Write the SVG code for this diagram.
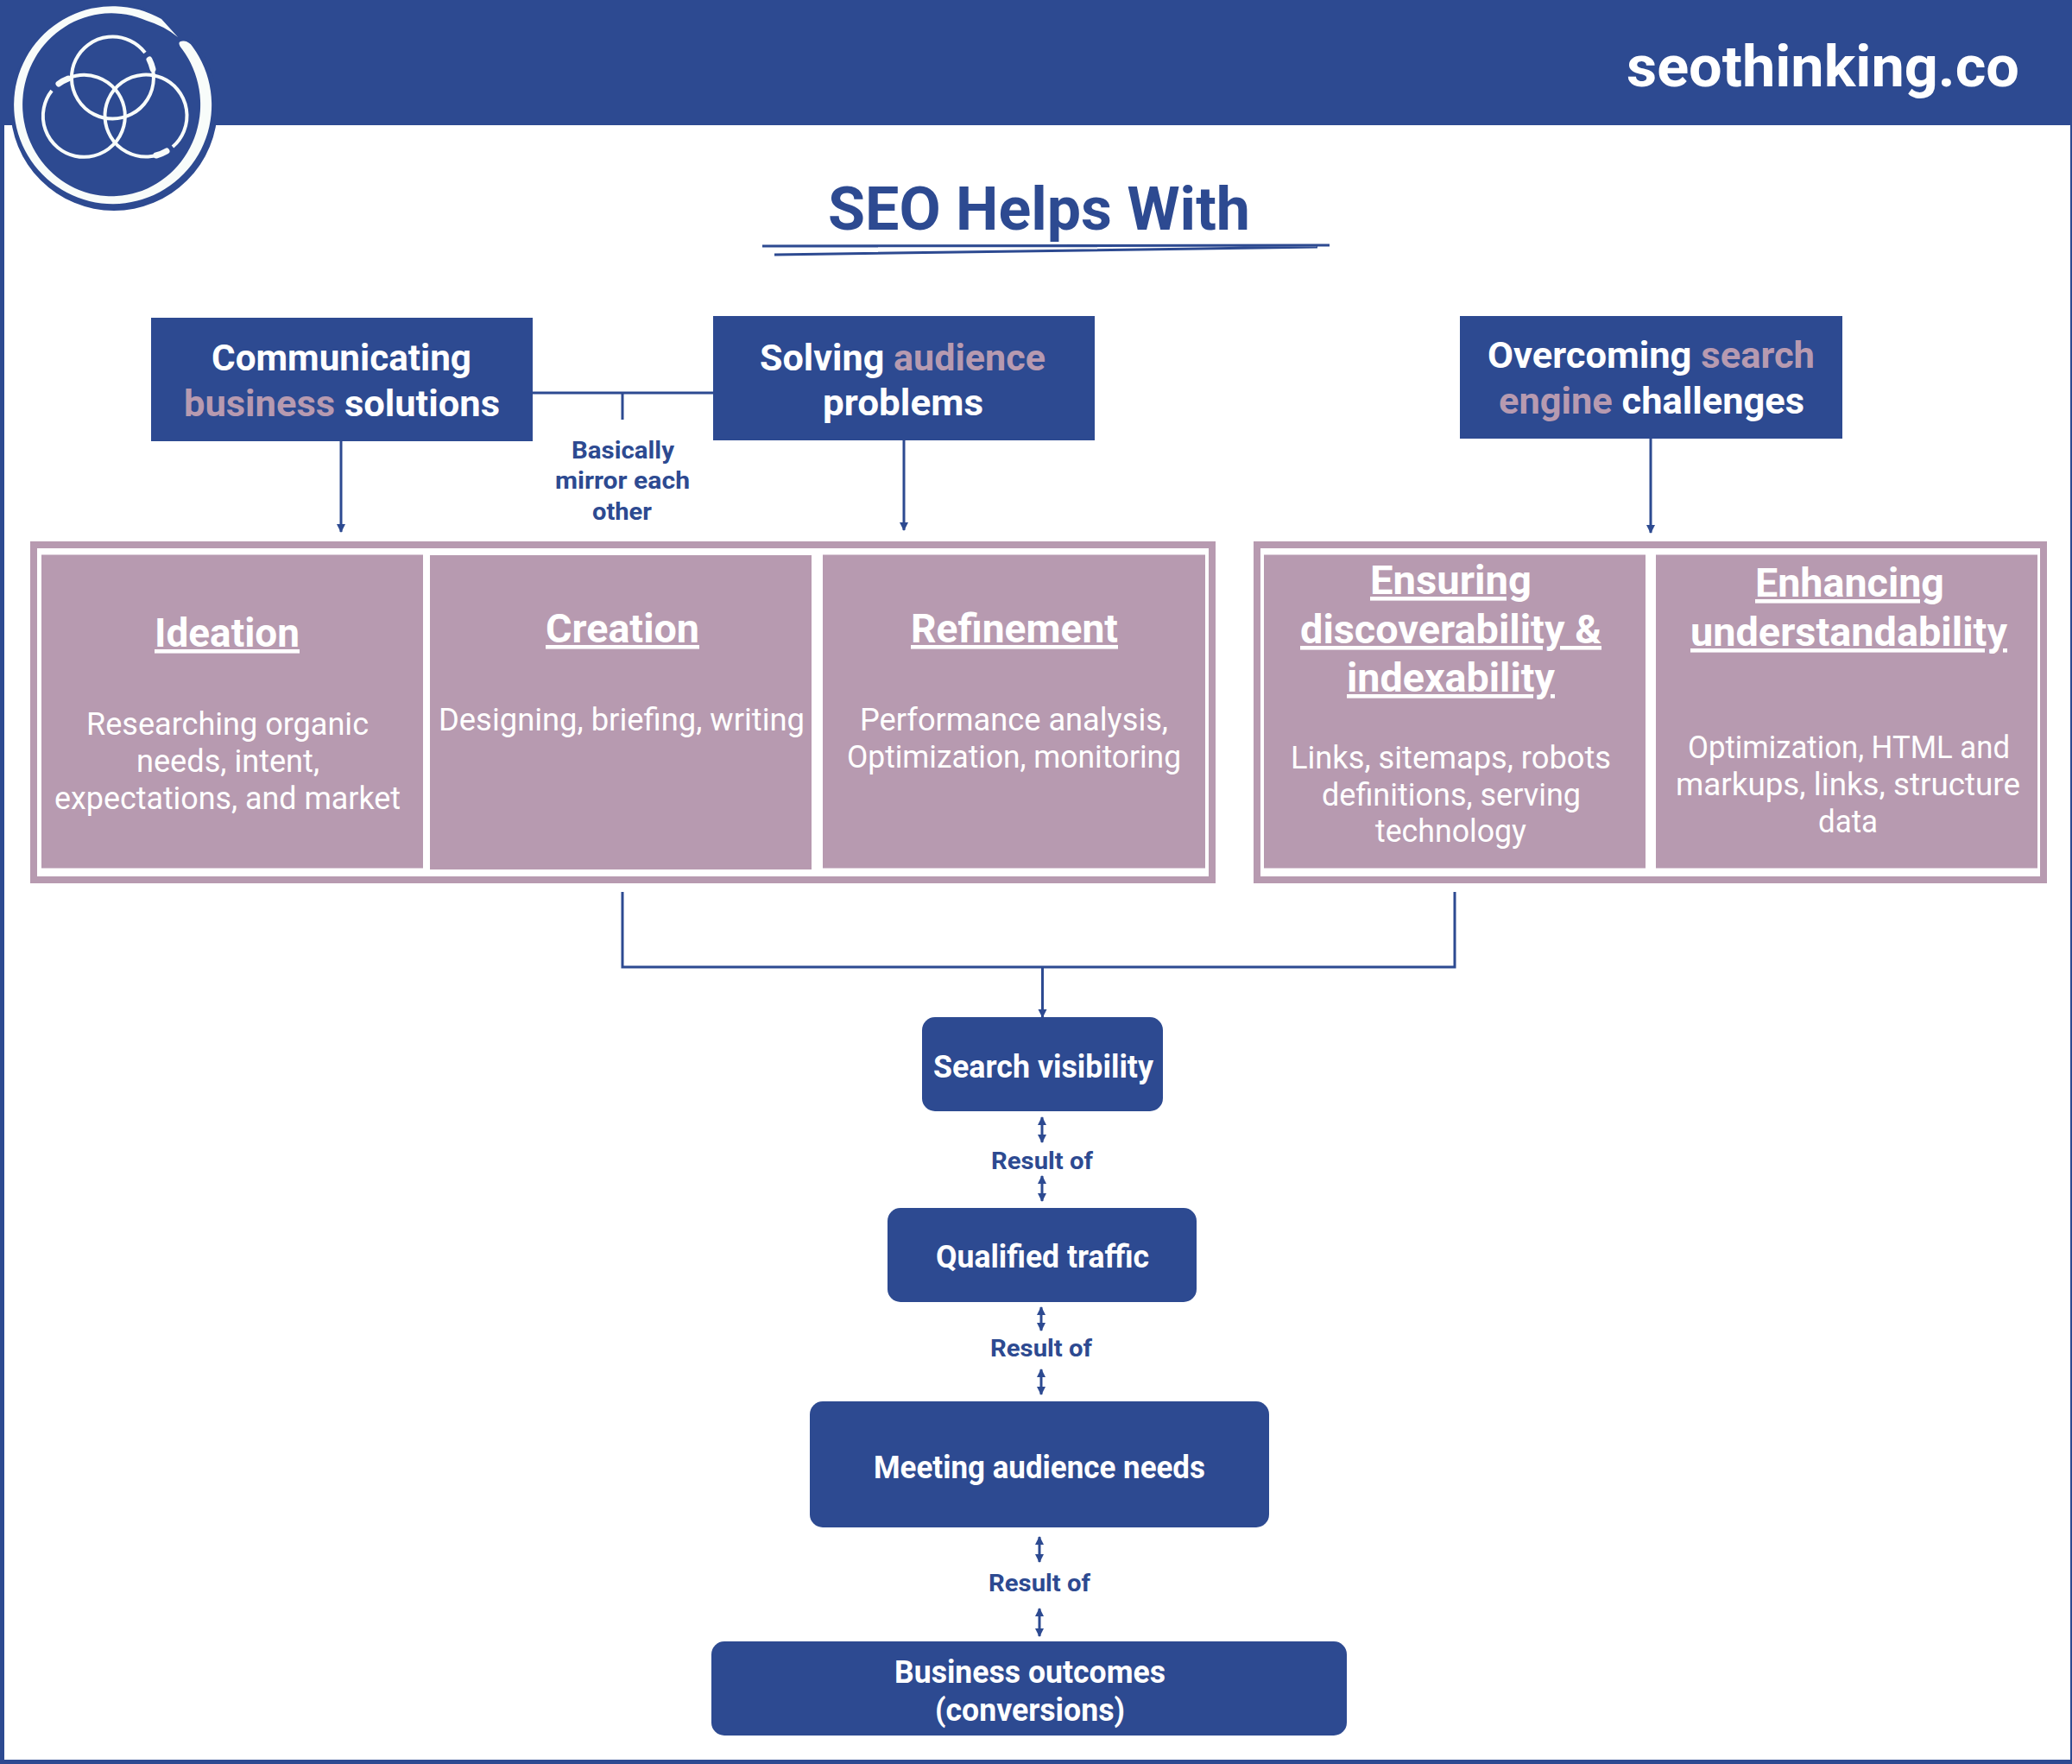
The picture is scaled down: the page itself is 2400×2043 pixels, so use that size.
<svg xmlns="http://www.w3.org/2000/svg" width="2400" height="2043" viewBox="0 0 2400 2043">
<style>
text{font-family:Roboto,"Liberation Sans",sans-serif}
.b{fill:#2d4a91}
.p{fill:#b79ab0}
.w{fill:#fff;font-weight:700}
.mp{fill:#b79ab0}
.h{font-size:42px}
.s{font-size:36px}
.t{fill:#fff;font-size:46px;font-weight:700;text-decoration:underline}
.d{fill:#fff;font-size:36px;font-weight:400}
.n{fill:#2d4a91;font-size:28px;font-weight:700}
.c{fill:none;stroke:#2d4a91;stroke-width:3}
.fr{fill:none;stroke:#b79ab0;stroke-width:8}
.lg{fill:none;stroke:#f8fcfa;stroke-width:4}
.lt{fill:none;stroke:#f8fcfa;stroke-width:7;stroke-linecap:round}
</style>
<defs>
<marker id="ae" markerUnits="userSpaceOnUse" markerWidth="10" markerHeight="12" refX="9" refY="5" orient="auto"><path d="M0,0L10,5L0,10Z" fill="#2d4a91"/></marker>
<marker id="as" markerUnits="userSpaceOnUse" markerWidth="10" markerHeight="12" refX="1" refY="5" orient="auto"><path d="M10,0L0,5L10,10Z" fill="#2d4a91"/></marker>
</defs>
<rect width="2400" height="2043" fill="#fff"/>
<path class="b" d="M0,0H2400V2043H0ZM5,145V2038H2398V145Z" fill-rule="evenodd"/>
<g id="logo">
<circle class="b" cx="132" cy="124" r="120"/>
<path fill="#f8fcfa" d="M223,54A114.500,114.500 0 1 1 187,22L206,43Q190,30 170,24A103,106 0 1 0 211,57Q203,47 213,47.500Q219,48 223,54Z"/>
<path class="lg" d="M173,69A47.500,47.500 0 1 1 168,61"/>
<path class="lg" d="M68,97A47.500,47.500 0 1 1 60,105"/>
<path class="lg" d="M193,175A47.500,47.500 0 1 1 200,170"/>
<path class="lt" d="M173,69A47.500,47.500 0 0 1 177,80"/>
<path class="lt" d="M68,97A47.500,47.500 0 0 1 79,91"/>
<path class="lt" d="M193,175A47.500,47.500 0 0 1 181,180"/>
</g>
<g id="header"><text class="w" x="1884" y="100" font-size="66" textLength="455" lengthAdjust="spacingAndGlyphs">seothinking.co</text></g>
<g id="title">
<text x="959" y="266" font-size="70" font-weight="700" fill="#2d4a91" textLength="489" lengthAdjust="spacingAndGlyphs">SEO Helps With</text>
<path class="c" d="M883,285L1540,284M897,295L1526,286"/>
</g>
<g id="connectors">
<path class="c" d="M617,455H826M721,455V486M721,1033V1120H1685V1033"/>
<path class="c" marker-end="url(#ae)" d="M395,511V616"/>
<path class="c" marker-end="url(#ae)" d="M1047,510V614"/>
<path class="c" marker-end="url(#ae)" d="M1912,508V617"/>
<path class="c" marker-end="url(#ae)" d="M1207.500,1120V1178"/>
<path class="c" marker-start="url(#as)" marker-end="url(#ae)" d="M1207,1294V1323"/>
<path class="c" marker-start="url(#as)" marker-end="url(#ae)" d="M1207,1362V1391"/>
<path class="c" marker-start="url(#as)" marker-end="url(#ae)" d="M1206,1514V1541"/>
<path class="c" marker-start="url(#as)" marker-end="url(#ae)" d="M1206,1586V1615"/>
<path class="c" marker-start="url(#as)" marker-end="url(#ae)" d="M1204,1780V1809"/>
<path class="c" marker-start="url(#as)" marker-end="url(#ae)" d="M1204,1863V1895"/>
</g>
<g id="communicating">
<rect class="b" x="175" y="368" width="442" height="143"/>
<text class="w h" x="245" y="429" textLength="301" lengthAdjust="spacingAndGlyphs">Communicating</text>
<text class="w h" x="213" y="482" textLength="366" lengthAdjust="spacingAndGlyphs"><tspan class="mp">business</tspan> solutions</text>
</g>
<g id="solving">
<rect class="b" x="826" y="366" width="442" height="144"/>
<text class="w h" x="880" y="429" textLength="331" lengthAdjust="spacingAndGlyphs">Solving <tspan class="mp">audience</tspan></text>
<text class="w h" x="953" y="481" textLength="186" lengthAdjust="spacingAndGlyphs">problems</text>
</g>
<g id="overcoming">
<rect class="b" x="1691" y="366" width="443" height="142"/>
<text class="w h" x="1723" y="426" textLength="379" lengthAdjust="spacingAndGlyphs">Overcoming <tspan class="mp">search</tspan></text>
<text class="w h" x="1736" y="479" textLength="354" lengthAdjust="spacingAndGlyphs"><tspan class="mp">engine</tspan> challenges</text>
</g>
<g id="mirror-label">
<text class="n" x="662" y="531" textLength="119" lengthAdjust="spacingAndGlyphs">Basically</text>
<text class="n" x="643" y="566" textLength="156" lengthAdjust="spacingAndGlyphs">mirror each</text>
<text class="n" x="686" y="602" textLength="69" lengthAdjust="spacingAndGlyphs">other</text>
</g>
<g id="frame-left"><rect class="fr" x="39" y="631" width="1365" height="388"/></g>
<g id="frame-right"><rect class="fr" x="1456" y="631" width="911" height="388"/></g>
<g id="ideation">
<rect class="p" x="48" y="642.500" width="442" height="363"/>
<text class="t" x="179" y="749" textLength="168" lengthAdjust="spacingAndGlyphs">Ideation</text>
<text class="d" x="100" y="851" textLength="327" lengthAdjust="spacingAndGlyphs">Researching organic</text>
<text class="d" x="158" y="894" textLength="212" lengthAdjust="spacingAndGlyphs">needs, intent,</text>
<text class="d" x="63" y="937" textLength="401" lengthAdjust="spacingAndGlyphs">expectations, and market</text>
</g>
<g id="creation">
<rect class="p" x="498" y="643" width="442" height="364"/>
<text class="t" x="632" y="744" textLength="178" lengthAdjust="spacingAndGlyphs">Creation</text>
<text class="d" x="508" y="846" textLength="424" lengthAdjust="spacingAndGlyphs">Designing, briefing, writing</text>
</g>
<g id="refinement">
<rect class="p" x="953" y="642.500" width="443" height="363"/>
<text class="t" x="1055" y="744" textLength="240" lengthAdjust="spacingAndGlyphs">Refinement</text>
<text class="d" x="996" y="846" textLength="357" lengthAdjust="spacingAndGlyphs">Performance analysis,</text>
<text class="d" x="981" y="889" textLength="387" lengthAdjust="spacingAndGlyphs">Optimization, monitoring</text>
</g>
<g id="ensuring">
<rect class="p" x="1464" y="642.500" width="442" height="363"/>
<text class="t" x="1587" y="688" textLength="187" lengthAdjust="spacingAndGlyphs">Ensuring</text>
<text class="t" x="1506" y="745" textLength="349" lengthAdjust="spacingAndGlyphs">discoverability &amp;</text>
<text class="t" x="1560" y="801" textLength="241" lengthAdjust="spacingAndGlyphs">indexability</text>
<text class="d" x="1495" y="890" textLength="371" lengthAdjust="spacingAndGlyphs">Links, sitemaps, robots</text>
<text class="d" x="1531" y="933" textLength="300" lengthAdjust="spacingAndGlyphs">definitions, serving</text>
<text class="d" x="1593" y="975" textLength="175" lengthAdjust="spacingAndGlyphs">technology</text>
</g>
<g id="enhancing">
<rect class="p" x="1918" y="642.500" width="442" height="363"/>
<text class="t" x="2033" y="691" textLength="219" lengthAdjust="spacingAndGlyphs">Enhancing</text>
<text class="t" x="1958" y="748" textLength="367" lengthAdjust="spacingAndGlyphs">understandability</text>
<text class="d" x="1955" y="878" textLength="373" lengthAdjust="spacingAndGlyphs">Optimization, HTML and</text>
<text class="d" x="1941" y="921" textLength="399" lengthAdjust="spacingAndGlyphs">markups, links, structure</text>
<text class="d" x="2106" y="964" textLength="69" lengthAdjust="spacingAndGlyphs">data</text>
</g>
<g id="search-visibility">
<rect class="b" x="1068" y="1178" width="279" height="109" rx="15"/>
<text class="w s" x="1081" y="1248" textLength="255" lengthAdjust="spacingAndGlyphs">Search visibility</text>
</g>
<g id="label-1"><text class="n" x="1148" y="1354" textLength="118" lengthAdjust="spacingAndGlyphs">Result of</text></g>
<g id="qualified-traffic">
<rect class="b" x="1028" y="1399" width="358" height="109" rx="15"/>
<text class="w s" x="1084" y="1468" textLength="247" lengthAdjust="spacingAndGlyphs">Qualified traffic</text>
</g>
<g id="label-2"><text class="n" x="1147" y="1571" textLength="118" lengthAdjust="spacingAndGlyphs">Result of</text></g>
<g id="meeting-needs">
<rect class="b" x="938" y="1623" width="532" height="146" rx="15"/>
<text class="w s" x="1012" y="1712" textLength="384" lengthAdjust="spacingAndGlyphs">Meeting audience needs</text>
</g>
<g id="label-3"><text class="n" x="1145" y="1843" textLength="118" lengthAdjust="spacingAndGlyphs">Result of</text></g>
<g id="business-outcomes">
<rect class="b" x="824" y="1901" width="736" height="109" rx="15"/>
<text class="w s" x="1036" y="1949" textLength="314" lengthAdjust="spacingAndGlyphs">Business outcomes</text>
<text class="w s" x="1083" y="1993" textLength="220" lengthAdjust="spacingAndGlyphs">(conversions)</text>
</g>
</svg>
